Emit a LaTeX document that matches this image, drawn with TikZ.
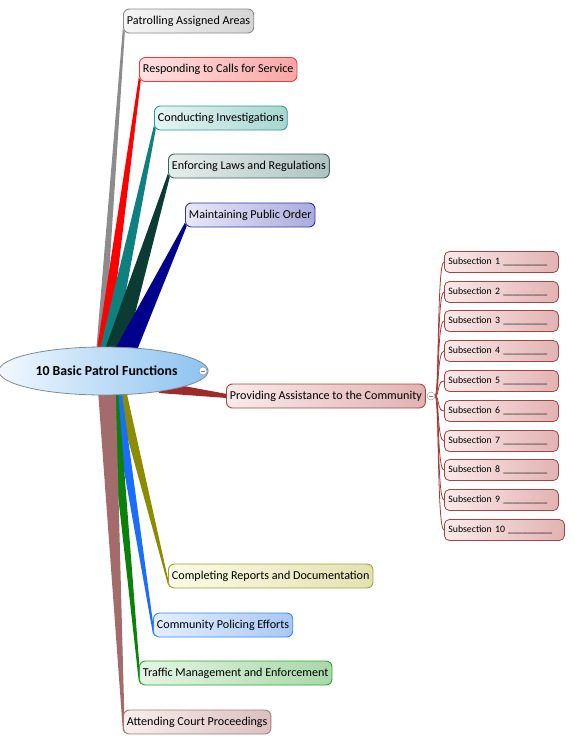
\documentclass[tikz,border=0pt]{standalone}
\usepackage{fontspec}
\setmainfont{Carlito}
\usetikzlibrary{calc,shapes.geometric,backgrounds}
\definecolor{wGray}{HTML}{8C8C8C}\definecolor{bGray}{HTML}{8A8A8A}\definecolor{lGray}{HTML}{F6F6F6}\definecolor{rGray}{HTML}{D4D4D4}
\definecolor{wRed}{HTML}{FF0000}\definecolor{bRed}{HTML}{F03A3A}\definecolor{lRed}{HTML}{FFE2E2}\definecolor{rRed}{HTML}{F7A6A6}
\definecolor{wTeal}{HTML}{0F8080}\definecolor{bTeal}{HTML}{2E9A96}\definecolor{lTeal}{HTML}{E6F5F3}\definecolor{rTeal}{HTML}{A6D6D1}
\definecolor{wDark}{HTML}{0B3B33}\definecolor{bDark}{HTML}{3B625E}\definecolor{lDark}{HTML}{E6EDEB}\definecolor{rDark}{HTML}{AEC4C1}
\definecolor{wNavy}{HTML}{00008C}\definecolor{bNavy}{HTML}{33339A}\definecolor{lNavy}{HTML}{E8E8F8}\definecolor{rNavy}{HTML}{ABABDE}
\definecolor{wProv}{HTML}{9E2A2A}\definecolor{bProv}{HTML}{A44444}\definecolor{lProv}{HTML}{FAEAEA}\definecolor{rProv}{HTML}{E2B2B2}
\definecolor{wOlive}{HTML}{8C8C00}\definecolor{bOlive}{HTML}{A0A040}\definecolor{lOlive}{HTML}{FBFBE6}\definecolor{rOlive}{HTML}{E2E2B0}
\definecolor{wBlue}{HTML}{1A6DFF}\definecolor{bBlue}{HTML}{3C86EE}\definecolor{lBlue}{HTML}{E4EFFF}\definecolor{rBlue}{HTML}{A8C8F6}
\definecolor{wGreen}{HTML}{0A820A}\definecolor{bGreen}{HTML}{35A035}\definecolor{lGreen}{HTML}{E4F5E4}\definecolor{rGreen}{HTML}{A8D8A8}
\definecolor{wBrown}{HTML}{A36B6B}\definecolor{bBrown}{HTML}{A77A7A}\definecolor{lBrown}{HTML}{F8EEEE}\definecolor{rBrown}{HTML}{DBC0C0}
\definecolor{ellB}{HTML}{7E8A96}\definecolor{ellL}{HTML}{F2F8FE}\definecolor{ellR}{HTML}{8CC2F0}
\definecolor{subLine}{HTML}{A53A3A}
\newcommand{\mybranch}[4]{% wedge colour, base dx, base half width, target node
  \fill[#1] ($(c.center)+(#2-#3,-12)$) -- ($(c.center)+(#2+#3,-12)$)
    -- ($(#4.south west)+(1.8,-1.5)$) -- ($(#4.south west)+(-0.2,-4.5)$) -- cycle;}
\newcommand{\mybranchdn}[4]{%
  \fill[#1] ($(c.center)+(#2-#3,12)$) -- ($(c.center)+(#2+#3,12)$)
    -- ($(#4.south west)+(1.8,-1.5)$) -- ($(#4.south west)+(-0.2,-4.5)$) -- cycle;}
\newcommand{\mysubconn}[1]{%
  \draw[subconn] (m2.east) .. controls ($(m2.east)+(4,0)$) and ($(#1.west)+(-7,0)$) .. (#1.west);}
\begin{document}
\begin{tikzpicture}[x=1pt,y=-1pt,
  topic/.style n args={3}{draw=#1, left color=#2, right color=#3, rounded corners=6pt,
     line width=0.9pt, inner xsep=3.5pt, inner ysep=0pt, minimum height=24pt, anchor=west,
     font=\fontsize{12.1}{14}\selectfont, text=black},
  subbox/.style={draw=bProv, left color=lProv, right color=rProv, rounded corners=5pt,
     line width=0.8pt, inner xsep=4pt, inner ysep=0pt, minimum height=21pt, anchor=west,
     text width=#1, align=left, font=\fontsize{9.8}{11}\selectfont, text=black},
  subbox/.default=106pt,
  marker/.style={circle, draw=gray!80, fill=white, line width=0.5pt, inner sep=0pt, minimum size=8pt},
  subconn/.style={draw=subLine, line width=0.8pt}]
\useasboundingbox (0,0) rectangle (575,745);

% centre
\node[ellipse, draw=ellB, line width=0.8pt, minimum width=187pt, minimum height=48pt, inner sep=0pt,
  left color=ellL, right color=ellR, font=\bfseries\fontsize{13.8}{16}\selectfont] (c) at (103.5,371) {\hspace{6pt}10 Basic Patrol Functions};
\node[marker] (m1) at (203,371) {};
\draw[gray, line width=0.5pt] ($(m1.center)+(-2,0)$) -- ($(m1.center)+(2,0)$);

% topics
\node[topic={bGray}{lGray}{rGray}] (t1) at (123,21) {Patrolling Assigned Areas};
\node[topic={bRed}{lRed}{rRed}] (t2) at (139,69.5) {Responding to Calls for Service};
\node[topic={bTeal}{lTeal}{rTeal}] (t3) at (154,118) {Conducting Investigations};
\node[topic={bDark}{lDark}{rDark}] (t4) at (168,166) {Enforcing Laws and Regulations};
\node[topic={bNavy}{lNavy}{rNavy}] (t5) at (185,215) {Maintaining Public Order};
\node[topic={bProv}{lProv}{rProv}] (t6) at (226,396) {Providing Assistance to the Community};
\node[topic={bOlive}{lOlive}{rOlive}] (t7) at (168,576) {Completing Reports and Documentation};
\node[topic={bBlue}{lBlue}{rBlue}] (t8) at (153,625) {Community Policing Efforts};
\node[topic={bGreen}{lGreen}{rGreen}] (t9) at (139,673) {Traffic Management and Enforcement};
\node[topic={bBrown}{lBrown}{rBrown}] (t10) at (123,722) {Attending Court Proceedings};
\node[marker] (m2) at (431,396) {};
\draw[gray, line width=0.5pt] ($(m2.center)+(-2,0)$) -- ($(m2.center)+(2,0)$);

% subsections
\node[subbox] (s1) at (444,262) {Subsection 1 \_\_\_\_\_\_\_\_\_};
\node[subbox] (s2) at (444,292) {Subsection 2 \_\_\_\_\_\_\_\_\_};
\node[subbox] (s3) at (444,321) {Subsection 3 \_\_\_\_\_\_\_\_\_};
\node[subbox] (s4) at (444,351) {Subsection 4 \_\_\_\_\_\_\_\_\_};
\node[subbox] (s5) at (444,381) {Subsection 5 \_\_\_\_\_\_\_\_\_};
\node[subbox] (s6) at (444,411) {Subsection 6 \_\_\_\_\_\_\_\_\_};
\node[subbox] (s7) at (444,441) {Subsection 7 \_\_\_\_\_\_\_\_\_};
\node[subbox] (s8) at (444,470) {Subsection 8 \_\_\_\_\_\_\_\_\_};
\node[subbox] (s9) at (444,500) {Subsection 9 \_\_\_\_\_\_\_\_\_};
\node[subbox=112pt] (s10) at (444,530) {Subsection 10 \_\_\_\_\_\_\_\_\_};

% branches (under the nodes)
\begin{scope}[on background layer]
  \mybranch{wGray}{-4}{4}{t1}
  \mybranch{wRed}{-2}{6}{t2}
  \mybranch{wTeal}{2}{8}{t3}
  \mybranch{wDark}{9}{11}{t4}
  \mybranch{wNavy}{18}{12}{t5}
  \mybranchdn{wOlive}{15}{6}{t7}
  \mybranchdn{wBlue}{11}{6}{t8}
  \mybranchdn{wGreen}{8}{6}{t9}
  \mybranchdn{wBrown}{3}{9}{t10}
  \fill[wProv] ($(c.center)+(64,12)$) -- ($(c.center)+(55,22)$)
    -- ($(t6.west)+(1,2)$) -- ($(t6.west)+(1,-2)$) -- cycle;
  \foreach \s in {s1,s2,s3,s4,s5,s6,s7,s8,s9,s10} {\mysubconn{\s}}
\end{scope}
\end{tikzpicture}
\end{document}
